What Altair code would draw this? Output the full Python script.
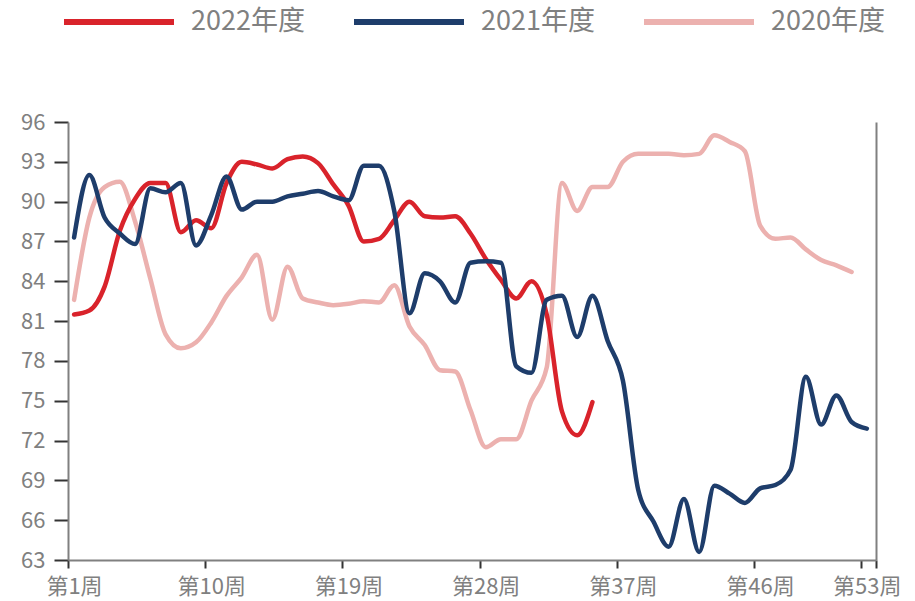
import altair as alt
import pandas as pd

# ---- data ----
weeks = list(range(1, 54))

s2022 = [81.5, 81.8, 83.6, 87.8, 90.2, 91.4, 91.4, 87.7, 88.6, 88.0,
         91.4, 93.0, 92.8, 92.5, 93.2, 93.4, 92.9, 91.3, 89.7, 87.0,
         87.2, 88.6, 90.0, 88.9, 88.8, 88.9, 87.6, 85.7, 84.1, 82.7,
         84.0, 81.5, 74.2, 72.4, 74.9]

s2021 = [87.3, 92.0, 88.8, 87.6, 86.8, 91.0, 90.7, 91.4, 86.7, 89.0,
         91.9, 89.4, 90.0, 90.0, 90.4, 90.6, 90.8, 90.4, 90.1, 92.7,
         92.7, 89.3, 81.6, 84.6, 84.0, 82.4, 85.4, 85.5, 85.4, 77.6,
         77.1, 82.6, 82.9, 79.8, 82.9, 79.5, 76.5, 68.3, 65.9, 64.0,
         67.6, 63.6, 68.6, 68.0, 67.3, 68.4, 68.65, 69.8, 76.8, 73.2,
         75.4, 73.4, 72.9]

s2020 = [82.6, 88.8, 91.1, 91.5, 88.5, 84.2, 80.0, 78.95, 79.4, 80.9,
         82.9, 84.3, 86.0, 81.1, 85.1, 82.7, 82.4, 82.2, 82.3, 82.5,
         82.4, 83.7, 80.6, 79.2, 77.3, 77.2, 74.3, 71.5, 72.1, 72.1,
         75.0, 77.5, 91.4, 89.3, 91.1, 91.1, 93.0, 93.6, 93.6, 93.6,
         93.5, 93.6, 95.0, 94.5, 93.8, 88.2, 87.2, 87.3, 86.4, 85.6,
         85.2, 84.7]

series_names = ["2022年度", "2021年度", "2020年度"]
series_colors = ["#D9232B", "#1E3D6B", "#ECB1AF"]
y_ticks = list(range(63, 97, 3))
x_tick_weeks = [1, 10, 19, 28, 37, 46, 53]

rows = []
for name, vals in zip(series_names, [s2022, s2021, s2020]):
    for w, v in zip(weeks, vals):
        rows.append({"week": w, "value": v, "series": name})
df = pd.DataFrame(rows)

FONT = "Noto Sans CJK SC"
GRAY = "#808080"

x_tick_pos = [w - 0.4 for w in x_tick_weeks] + [53.6]
x_scale = alt.Scale(domain=[0.6, 53.6], nice=False, zero=False)
y_scale = alt.Scale(domain=[63, 96], nice=False, zero=False)

x_enc = alt.X(
    "week:Q", scale=x_scale,
    axis=alt.Axis(
        values=x_tick_pos,
        labelExpr="datum.value > 53 ? '' : '第' + round(datum.value + 0.4) + '周'",
        labelOffset=6,
        title=None, grid=False, tickSize=8, tickWidth=2, tickColor="#333333",
        domainColor=GRAY, domainWidth=2, labelPadding=8,
        labelFont=FONT, labelFontSize=22, labelColor=GRAY, labelOverlap=False,
        labelFlush=False,
    ),
)

y_enc = alt.Y(
    "value:Q", scale=y_scale,
    axis=alt.Axis(
        values=y_ticks, title=None, grid=False, tickSize=14, tickWidth=2,
        tickColor="#333333", domainColor=GRAY, domainWidth=2, labelPadding=9,
        labelFont=FONT, labelFontSize=22, labelColor=GRAY, labelFlush=False,
    ),
)

color_enc = alt.Color(
    "series:N",
    scale=alt.Scale(domain=series_names, range=series_colors),
    legend=alt.Legend(
        title=None, orient="none", direction="horizontal",
        legendX=-7, legendY=-158,
        symbolType="stroke", symbolSize=12100, symbolStrokeWidth=6,
        labelFont=FONT, labelFontSize=27, labelColor=GRAY,
        labelOffset=14, columnPadding=37, padding=0,
    ),
)

base = alt.Chart(df)

def series_line(name):
    return base.transform_filter(alt.datum.series == name).mark_line(
        interpolate="monotone", strokeWidth=4.5, strokeCap="round", strokeJoin="round"
    ).encode(x=x_enc, y=y_enc, color=color_enc)

lines = alt.layer(
    series_line("2020年度"),
    series_line("2022年度"),
    series_line("2021年度"),
)

right_frame = base.mark_line(opacity=0).encode(
    x=x_enc,
    y=alt.Y("value:Q", scale=y_scale,
            axis=alt.Axis(orient="right", labels=False, ticks=False, title=None,
                          grid=False, domainColor=GRAY, domainWidth=2)),
    detail="series:N",
)

chart = alt.layer(lines, right_frame).resolve_axis(y="independent").properties(
    width=808, height=438,
    autosize=alt.AutoSizeParams(type="none"),
    padding={"left": 68, "top": 122, "right": 39, "bottom": 41},
).configure_view(stroke=None)

chart.save("out.html", embed_options={"renderer": "svg", "actions": False})
